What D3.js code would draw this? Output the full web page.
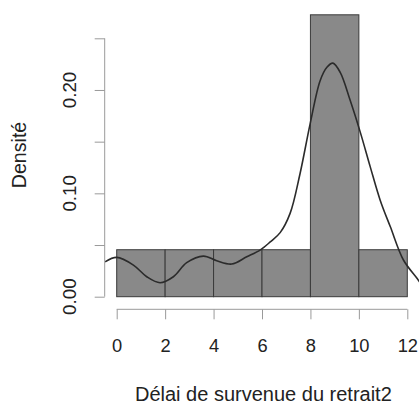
<!DOCTYPE html>
<html>
<head>
<meta charset="utf-8">
<script src="https://cdn.jsdelivr.net/npm/d3@7"></script>
<style>
  html, body { margin: 0; padding: 0; background: #fff; }
  svg text { font-family: "Liberation Sans", Arial, sans-serif; fill: #222; }
</style>
</head>
<body>
<svg id="chart" width="420" height="403"></svg>
<script>
// Histogram bins (bin start / end) and their densities
const binStarts = [0, 2, 4, 6, 8, 10];
const binEnds   = [2, 4, 6, 8, 10, 12];
const densities = [0.04545, 0.04545, 0.04545, 0.04545, 0.27273, 0.04545];

// Kernel density curve sampled along x
const curveX = [-0.48, 0.0, 0.69, 1.24, 1.79, 2.34, 2.89, 3.58, 4.13, 4.75, 5.37, 5.92, 6.34, 6.75, 7.16, 7.57, 7.99, 8.4, 8.68, 8.93, 9.23, 9.64, 10.06, 10.47, 10.88, 11.3, 11.84, 12.4, 12.53];
const curveY = [0.0338, 0.038, 0.0306, 0.0193, 0.0135, 0.0193, 0.0329, 0.0393, 0.0348, 0.0316, 0.0386, 0.0451, 0.053, 0.062, 0.0806, 0.119, 0.1675, 0.209, 0.222, 0.226, 0.217, 0.190, 0.159, 0.1256, 0.0934, 0.0676, 0.0355, 0.0178, 0.0135];

// Axis ticks
const xTicks = [0, 2, 4, 6, 8, 10, 12];
const yTicks = [0, 0.05, 0.10, 0.15, 0.20, 0.25];
const yTickLabels = [0, 0.10, 0.20];

const xTitle = "Délai de survenue du retrait2";
const yTitle = "Densité";

const svg = d3.select("#chart");

const x = d3.scaleLinear().domain([0, 12]).range([116.7, 407.3]);
const y = d3.scaleLinear().domain([0, 0.25]).range([296.7, 38.3]);

// Plot region used for clipping the density line
const xMin = -0.48, xMax = 12.48;
svg.append("clipPath").attr("id", "plotClip")
  .append("rect")
  .attr("x", x(xMin)).attr("y", 0)
  .attr("width", x(xMax) - x(xMin)).attr("height", 309);

// Bars
svg.append("g").selectAll("rect")
  .data(binStarts)
  .join("rect")
  .attr("x", (d, i) => x(d))
  .attr("width", (d, i) => x(binEnds[i]) - x(d))
  .attr("y", (d, i) => y(densities[i]))
  .attr("height", (d, i) => y(0) - y(densities[i]))
  .attr("fill", "#898989")
  .attr("stroke", "#3a3a3a")
  .attr("stroke-width", 1);

// Density curve
const pts = curveX.map((d, i) => [d, curveY[i]]);
svg.append("path")
  .datum(pts)
  .attr("clip-path", "url(#plotClip)")
  .attr("fill", "none")
  .attr("stroke", "#2b2b2b")
  .attr("stroke-width", 1.6)
  .attr("d", d3.line().x(d => x(d[0])).y(d => y(d[1])).curve(d3.curveCatmullRom.alpha(0.5)));

// X axis
const xAxis = d3.axisBottom(x).tickValues(xTicks).tickSize(10).tickPadding(20).tickFormat(d3.format("d"));
const gx = svg.append("g").attr("transform", "translate(0,309.3)").call(xAxis);
gx.select(".domain").attr("stroke", "#9a9a9a").attr("d", `M${x(0)},0H${x(12)}`);
gx.selectAll(".tick line").attr("stroke", "#9a9a9a");
gx.selectAll(".tick text").attr("font-size", 18.3).style("fill", "#222")
  .attr("font-family", "Liberation Sans, Arial, sans-serif");

// Y axis
const yAxis = d3.axisLeft(y).tickValues(yTicks).tickSize(10).tickFormat(() => "");
const gy = svg.append("g").attr("transform", "translate(104.7,0)").call(yAxis);
gy.select(".domain").attr("stroke", "#9a9a9a").attr("d", `M0,${y(0)}V${y(0.25)}`);
gy.selectAll(".tick line").attr("stroke", "#9a9a9a");

// Rotated y tick labels
svg.append("g").selectAll("text")
  .data(yTickLabels)
  .join("text")
  .attr("transform", d => `translate(76,${y(d)}) rotate(-90)`)
  .attr("text-anchor", "middle")
  .attr("font-size", 18.8)
  .text(d => d3.format(".2f")(d));

// Axis titles
svg.append("text")
  .attr("x", 263.4).attr("y", 400.5)
  .attr("text-anchor", "middle")
  .attr("font-size", 20)
  .text(xTitle);

svg.append("text")
  .attr("transform", `translate(25.5,155) rotate(-90)`)
  .attr("text-anchor", "middle")
  .attr("font-size", 19.6)
  .text(yTitle);
</script>
</body>
</html>
